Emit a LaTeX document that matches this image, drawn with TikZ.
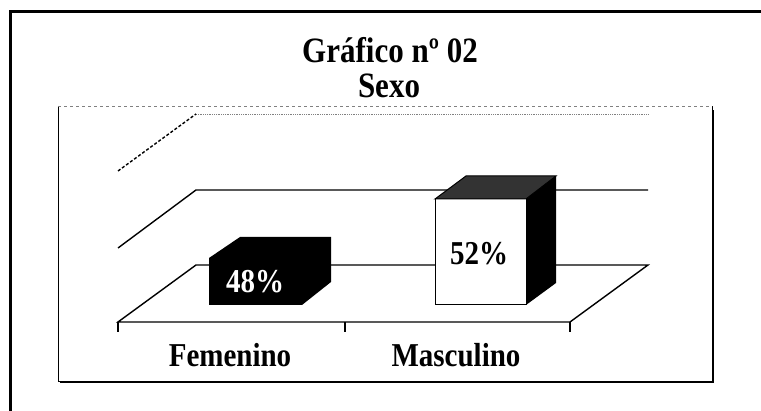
\documentclass[tikz,border=0pt]{standalone}
\usepackage{fontspec}
\setmainfont{Liberation Serif}
\usetikzlibrary{patterns}

\tikzset{
  gridline/.style={line width=1.4pt},
  titletext/.style={font=\fontsize{31}{33}\selectfont\bfseries, anchor=base},
  axistext/.style={font=\fontsize{29}{31}\selectfont\bfseries, anchor=base},
}
\newcommand\tallt[1]{\scalebox{1}[1.15]{#1}}

\begin{document}
\begin{tikzpicture}[x=1pt,y=-1pt]
    \useasboundingbox (0,0) rectangle (761,411);
    % frames
    \draw [line width=3pt] (10,411)--(10,12)--(761,12);
    \draw [line width=0.8pt] (58,106)--(58,381)--(712,381)--(712,106);
    \draw [line width=1.6pt] (60,382)--(713,382)--(713,110);
    \draw [gray, dashed, line width=0.8pt] (58,106)--(712,106);
    % titles
    \node [titletext] (titulo) at (390,63) {\tallt{Gráfico nº 02}};
    \node [titletext] (sexo) at (389,98) {\tallt{Sexo}};
    % back walls and floor
    \draw [gray, densely dotted, line width=0.8pt] (196,114)--(648,114);
    \draw [gridline, densely dashed] (118,171)--(196,114);
    \draw [gridline] (118,248)--(196,190)--(648,190);
    \draw [gridline] (118,322)--(570,322)--(648,265)--(196,265)--cycle;
    \foreach \x in {118,345,570}
    \draw [gridline] (\x,322)--(\x,332);
    % bar femenino
    \fill (209,258) rectangle (302,305);
    \fill (209,258)--(240,237)--(331,237)--(331,282)--(302,305)--(302,258)--cycle;
    \node [axistext, white] (pfem) at (255,293) {\tallt{48\%}};
    % bar masculino
    \filldraw [fill=white, line width=1pt] (435,199) rectangle (526,305);
    \filldraw [fill=black!80, line width=1pt] (435,199)--(466,176)--(556,176)--(526,199)--cycle;
    \fill (526,199)--(556,176)--(556,283)--(526,305)--cycle;
    \node [axistext] (pmas) at (479,265) {\tallt{52\%}};
    % category labels
    \node [axistext] (fem) at (230,367) {\tallt{Femenino}};
    \node [axistext] (mas) at (456,367) {\tallt{Masculino}};
\end{tikzpicture}
\end{document}
